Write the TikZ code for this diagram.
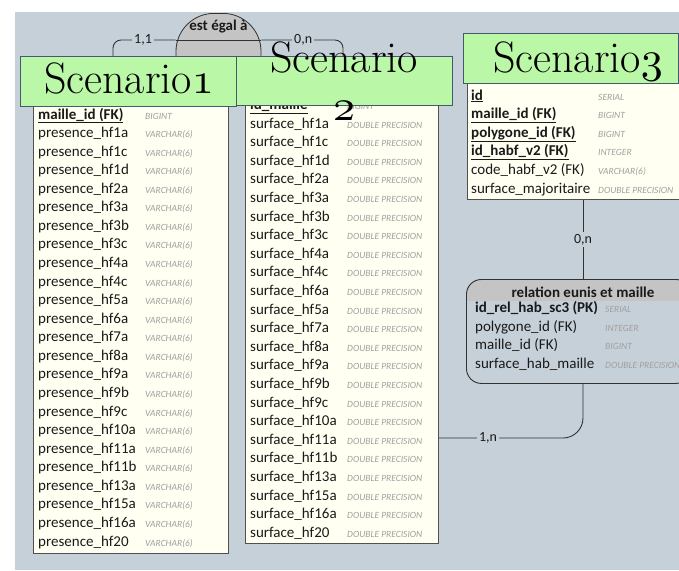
\documentclass[tikz,border=0pt]{standalone}
\usepackage{fontspec}
\newfontfamily\tabfont{Carlito}
\DeclareFontFamily{OML}{myosf}{\skewchar\font=127}
\DeclareFontShape{OML}{myosf}{m}{it}{<-> cmmi10}{}
\newcommand\osnum[1]{{\usefont{OML}{myosf}{m}{it}#1}}
\definecolor{bgc}{RGB}{198,208,216}
\definecolor{cream}{RGB}{255,255,242}
\definecolor{gfill}{RGB}{186,247,166}
\definecolor{gbord}{RGB}{67,89,110}
\definecolor{bord}{RGB}{80,80,80}
\definecolor{hdrgray}{RGB}{196,196,196}
\definecolor{typec}{RGB}{160,160,160}
\definecolor{txt}{RGB}{26,26,26}
\definecolor{lc}{RGB}{50,50,50}
\tikzset{
  rowname/.style={anchor=base west, inner sep=0pt, font=\tabfont\fontsize{15}{18}\selectfont, text=txt},
  rowtype/.style={anchor=base west, inner sep=0pt, font=\tabfont\itshape\fontsize{9.5}{11}\selectfont, text=typec},
  bodybox/.style={draw=bord, fill=cream, line width=1.1pt, inner sep=0pt, anchor=north west},
  headbox/.style={draw=gbord, fill=gfill, line width=1.4pt, inner sep=0pt, anchor=north west},
  titletext/.style={anchor=base, inner sep=0pt, font=\fontsize{44}{50}\selectfont},
  conn/.style={draw=lc, line width=0.9pt},
  card/.style={fill=bgc, inner sep=2pt, text=txt, font=\tabfont\fontsize{14}{16}\selectfont},
}
\begin{document}
\begin{tikzpicture}[x=1pt,y=-1pt]
\useasboundingbox (0,0) rectangle (679,570);
\clip (0,0) rectangle (679,570);
\fill[white] (0,0) rectangle (679,570);
\fill[bgc] (15,12) rectangle (679,570);

% helper coordinates
\coordinate (y40) at (0,40);
\coordinate (y438) at (0,438);
\coordinate (xl) at (113,0);
\coordinate (xm) at (343,0);
\coordinate (xr) at (583,0);

% relation "est egal a"
\node[draw=lc, fill=hdrgray, line width=0.8pt, rounded corners=38, minimum width=85pt, minimum height=80pt, inner sep=0pt, anchor=north] (eq) at (218.5,13) {};
\node[inner sep=0pt, text=txt, font=\tabfont\bfseries\fontsize{15}{18}\selectfont] (eqt) at (218.5,27) {est égal à};
\draw[conn] (eq.west |- y40) -- (eq.east |- y40);

% table bodies
\node[bodybox, minimum width=195pt, minimum height=493pt] (t1) at (33,60) {};
\node[bodybox, minimum width=193pt, minimum height=483pt] (t2) at (245,60) {};
\node[bodybox, minimum width=217pt, minimum height=116pt] (t3) at (467,83) {};

% connectors top
\draw[conn, rounded corners=8] (xl |- 0,56) |- node[card, pos=0.74] (c11) {1,1} (eq.west |- y40);
\draw[conn, rounded corners=8] (eq.east |- y40) -| node[card, pos=0.256] (c0n) {0,n} (xm |- 0,60);

% Scenario1 rows
\node[rowname, font=\tabfont\bfseries\fontsize{15}{18}\selectfont] (s1n0) at (38,119) {\underline{maille\_id (FK)}};
\node[rowtype] (s1t0) at (145,119) {BIGINT};
\foreach \s [count=\i] in {1a,1c,1d,2a,3a,3b,3c,4a,4c,5a,6a,7a,8a,9a,9b,9c,10a,11a,11b,13a,15a,16a,20}{
  \node[rowname] (s1n\i) at (38,{119+18.57*\i}) {presence\_hf\s};
  \node[rowtype] (s1t\i) at (145,{119+18.57*\i}) {VARCHAR(6)};
}

% Scenario2 rows
\node[rowname, font=\tabfont\bfseries\fontsize{15}{18}\selectfont] (s2n0) at (250,109.4) {\underline{id\_maille}};
\node[rowtype] (s2t0) at (347,109.4) {BIGINT};
\foreach \s [count=\i] in {1a,1c,1d,2a,3a,3b,3c,4a,4c,6a,5a,7a,8a,9a,9b,9c,10a,11a,11b,13a,15a,16a,20}{
  \node[rowname] (s2n\i) at (250,{109.4+18.6*\i}) {surface\_hf\s};
  \node[rowtype] (s2t\i) at (347,{109.4+18.6*\i}) {DOUBLE PRECISION};
}

% Scenario3 rows
\foreach \n/\t/\b [count=\i from 0] in {id/SERIAL/1, maille\_id (FK)/BIGINT/1, polygone\_id (FK)/BIGINT/1, id\_habf\_v2 (FK)/INTEGER/1, code\_habf\_v2 (FK)/VARCHAR(6)/0, surface\_majoritaire/DOUBLE PRECISION/0}{
  \ifnum\b=1
    \node[rowname, font=\tabfont\bfseries\fontsize{15}{18}\selectfont] (s3n\i) at (471,{100+18.6*\i}) {\underline{\n}};
  \else
    \node[rowname] (s3n\i) at (471,{100+18.6*\i}) {\n};
  \fi
  \node[rowtype] (s3t\i) at (598,{100+18.6*\i}) {\t};
}

% relation eunis et maille
\begin{scope}
  \clip (460,270) rectangle (700,300);
  \fill[hdrgray, rounded corners=15] (466,279) rectangle (690,383);
\end{scope}
\node[draw=lc, line width=0.9pt, rounded corners=15, minimum width=224pt, minimum height=104pt, inner sep=0pt, anchor=north west] (rel) at (466,279) {};
\node[inner sep=0pt, text=txt, font=\tabfont\bfseries\fontsize{15}{18}\selectfont] (relt) at (583,292) {relation eunis et maille};
\node[rowname, font=\tabfont\bfseries\fontsize{15}{18}\selectfont] (rn0) at (475,312) {id\_rel\_hab\_sc3 (PK)};
\node[rowtype] (rt0) at (605,312) {SERIAL};
\node[rowname] (rn1) at (475,331) {polygone\_id (FK)};
\node[rowtype] (rt1) at (605,331) {INTEGER};
\node[rowname] (rn2) at (475,349.5) {maille\_id (FK)};
\node[rowtype] (rt2) at (605,349.5) {BIGINT};
\node[rowname] (rn3) at (475,368) {surface\_hab\_maille};
\node[rowtype] (rt3) at (605,368) {DOUBLE PRECISION};

% relation connectors
\draw[conn] (t3.south -| xr) -- node[card] (c0n2) {0,n} (rel.north -| xr);
\draw[conn, rounded corners=20] (rel.south -| xr) |- node[card, pos=0.83] (c1n) {1,n} (t2.east |- y438);

% green headers
\node[headbox, minimum width=216pt, minimum height=50pt] (h1) at (20,56) {};
\node[headbox, minimum width=216pt, minimum height=49pt] (h2) at (236,56) {};
\node[headbox, minimum width=215pt, minimum height=50pt] (h3) at (463,33) {};

% titles
\node[titletext] (ti1) at (129,93) {Scenario\osnum{1}};
\node[titletext] (ti2a) at (344,72) {Scenario};
\node[titletext] (ti2b) at (344,120) {\osnum{2}};
\node[titletext] (ti3) at (578,72) {Scenario\osnum{3}};
\end{tikzpicture}
\end{document}
